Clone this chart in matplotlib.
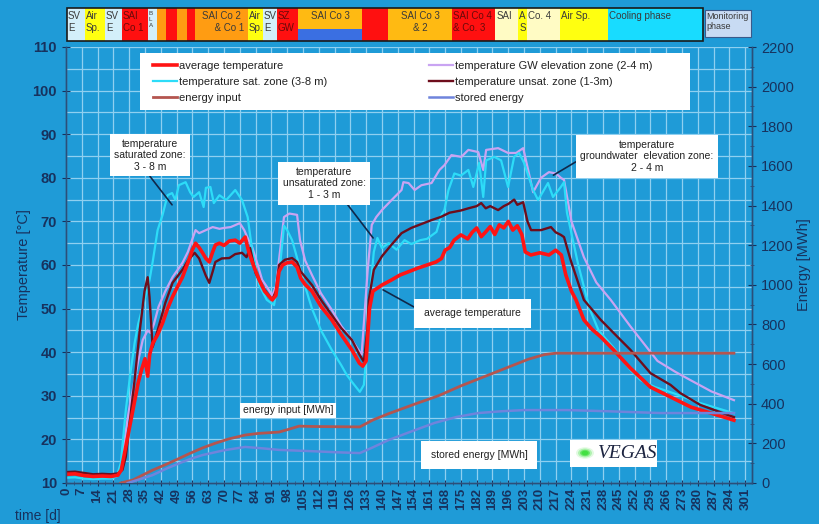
import matplotlib
matplotlib.use("Agg")
import matplotlib.pyplot as plt
from matplotlib.patches import Rectangle, Circle
from matplotlib.transforms import blended_transform_factory
from matplotlib.ticker import MultipleLocator

plt.rcParams['font.family'] = ['Liberation Sans', 'DejaVu Sans']

BG = '#1f9bd7'
INK = '#17325e'
GRID = '#8fd0f0'

# ---------------- temperature series (day, °C) ----------------
avg_day = [0, 4, 8, 12, 16, 20, 23, 24.5, 26, 27.5, 29, 30.5, 32, 33.5, 35, 36.2, 37.1, 38.4,
           40.6, 42.8, 45, 47.2, 49.4, 51.6, 54, 56, 57.4, 59, 60.5, 62, 63.5, 65, 66.2, 68, 70,
           72.4, 75, 77, 79.4, 81, 83, 85.6, 88, 91.4, 93, 94.4, 96, 98, 100.2, 102.4, 104, 106,
           109, 113, 117.8, 122, 126.7, 130, 131.5, 133, 134.5, 136, 140, 144, 148, 152, 156,
           160, 164, 166.4, 168, 170, 172, 175, 178, 180, 182, 184, 186, 188, 190, 192, 194,
           196, 198, 200, 202, 203.5, 206, 210, 214, 217, 219.5, 221.5, 224, 226, 229.5, 233,
           237, 242.7, 250, 259, 268, 277, 286, 296]
avg_temp = [12.0, 12.1, 11.7, 11.5, 11.6, 11.5, 11.8, 13, 17, 21, 25, 29, 33, 36, 38.5, 34.5,
            39.5, 42, 44, 46.7, 50, 52.7, 55, 57.2, 60.5, 63.5, 65, 64, 62.8, 61.5, 60.7, 63,
            64.6, 65, 64.5, 65.5, 65.7, 65, 66.4, 63, 60, 56.6, 54, 52, 53, 58.5, 60, 60.5,
            60.7, 59.5, 57, 55.5, 54, 50.5, 47.4, 44, 40.5, 37.5, 36.8, 38, 50, 54, 55.4, 56.5,
            57.7, 58.5, 59.3, 60, 60.7, 61.5, 63.4, 64, 65.7, 66.9, 66, 67.5, 68.5, 66.5, 67.6,
            68.8, 67, 69.2, 68.5, 70, 68, 69, 67, 63, 62.3, 62.8, 62.3, 63.4, 62.3, 57.7, 54,
            52, 47.4, 45.3, 43.5, 40.5, 36.4, 32, 29.7, 27.4, 26, 24.4]

gw_day = [0, 4, 8, 12, 16, 20, 23, 24.5, 26.5, 28, 30.4, 32, 34, 36.2, 37.5, 39, 41, 44, 47.2,
          51.6, 54, 57.4, 59, 62, 65, 68, 70, 73, 77, 79, 80.3, 82.5, 85, 86.9, 89, 91.4, 93,
          94.9, 96.6, 99, 102.4, 103.7, 106, 109, 113, 117.8, 122, 126.7, 131, 133.7, 135.5,
          137.5, 140, 144.3, 148.7, 149.5, 151.8, 154.5, 157.5, 162, 165.5, 167.7, 170.8,
          175.2, 178.3, 182.7, 184.9, 186.2, 191.5, 195.9, 199.5, 202.6, 204.8, 207, 210.5,
          214, 217.1, 219.3, 220.7, 224, 229.5, 235, 241.4, 250, 262.1, 270, 276.7, 286, 296]
gw_temp = [12.0, 12.2, 11.8, 11.6, 11.6, 11.6, 11.9, 14, 22, 27, 33.6, 38, 42.8, 45, 44.4,
           46.5, 50.4, 54, 57.2, 60.5, 63, 68, 67.3, 68, 68.7, 68.3, 68.5, 68.7, 69.6, 68,
           66.4, 64.1, 60, 56.6, 55, 53, 55, 63.4, 71, 71.8, 71.5, 65.7, 61, 57.7, 53.5, 49.7,
           46, 42.8, 39.4, 58.9, 69.2, 71, 72.6, 74.9, 77.2, 79, 78.8, 77.2, 78.3, 78.8, 81.8,
           82.9, 85.2, 84.8, 86.4, 85.9, 81.8, 86.4, 86.8, 85.7, 85.7, 86.8, 81.8, 76.7, 80,
           81.3, 81, 80, 79.5, 70, 61.8, 56, 52, 46, 38, 35.5, 33.6, 31, 29]

sat_day = [0, 4, 8, 12, 16, 20, 22.5, 24.3, 26.5, 28.5, 30.4, 32, 34, 37, 38.5, 40.6, 42.8,
           45, 47, 48.5, 50, 53, 55, 56.5, 59, 61, 62, 64, 65.5, 68, 71, 75, 78, 80.5, 82.5,
           85.6, 89, 92.2, 94.9, 96.6, 98, 100.2, 103.3, 106, 109, 113, 117.8, 122, 124.4,
           127, 130.2, 132, 133.7, 135, 136.4, 138, 140, 143, 146.5, 150, 153, 157, 160,
           164.2, 166.4, 167.7, 169.5, 172.1, 175, 178.3, 180.5, 183.1, 184.9, 186.2, 189.8,
           192.8, 195.9, 198.6, 200.8, 203, 207, 209.2, 213.6, 215.8, 219.3, 220.7, 222,
           226.8, 232, 236, 242.7, 250, 254.6, 261, 269.2, 280, 296]
sat_temp = [11.2, 11.3, 11.0, 10.9, 11.0, 11.0, 11.5, 14.6, 26.7, 35, 42.1, 46.5, 50.4, 56.5,
            61, 68, 71.5, 76, 76.5, 74.9, 78.3, 79, 76.7, 75.6, 76.7, 73.3, 77.7, 77.9, 74.2,
            76, 74.9, 77.2, 74.9, 71, 63.4, 55.4, 52, 50.8, 60, 69, 68, 65.7, 60, 55, 50, 45,
            40.5, 37, 34.8, 33, 30.9, 32.5, 42.8, 55, 63, 66.2, 63.9, 65, 63.5, 65.7, 64.8,
            65.7, 66, 67.6, 71.5, 72.6, 77.2, 81, 80.5, 81.8, 77.9, 83.4, 75.6, 84, 84.8, 84,
            77.9, 84.8, 85.7, 83.4, 77.2, 74.9, 78.8, 75.6, 77.9, 79, 72, 60.5, 50, 45, 41,
            36, 33.6, 32, 30.6, 28.5, 26]

unsat_day = [0, 4, 8, 12, 16, 20, 23, 25, 26.5, 28.2, 30.4, 32.7, 34.8, 36.2, 37, 38.4, 40.6,
             44, 47.2, 51.6, 54, 57, 59, 60.5, 62, 63.5, 65, 66.2, 69, 72.4, 75, 78, 80, 81.6,
             84, 87, 91.4, 93, 94.4, 97, 100.2, 102.4, 104, 109, 113, 117.8, 122, 126.7, 130,
             132, 133.5, 134.2, 136.4, 140, 144, 148.7, 153, 158, 162, 166, 170, 175, 178.3,
             182, 184, 186, 188, 191.5, 194, 196, 198.6, 200, 202.6, 204.5, 206.1, 210.5,
             214.9, 217, 219.3, 220.7, 223.7, 229.5, 237, 242.7, 250.2, 259, 267.9, 272.3,
             281.1, 296]
unsat_temp = [12.5, 12.6, 12.3, 12.0, 12.1, 12.0, 12.2, 13, 16, 23.8, 33.6, 45, 54, 57.2,
              52.7, 41.2, 45, 51.3, 55.9, 58.9, 61, 62.8, 61.5, 59.5, 57.5, 55.9, 58.5, 60.7,
              61.5, 61.6, 62.5, 62.8, 61.8, 63.9, 58.2, 55, 52, 54, 60, 61.2, 61.6, 60.7, 58.5,
              55.4, 52, 48.5, 45.5, 42.8, 39.5, 37.8, 45, 52, 58.9, 62, 64.5, 67.3, 68.5, 69.5,
              70.3, 71, 72, 72.5, 73, 73.5, 74.2, 73, 73.5, 72.6, 73.5, 74, 75, 73.8, 74.4, 70,
              68, 68, 68.7, 67.5, 66.9, 66.4, 61, 52, 47.4, 44.4, 40.5, 35.2, 32.5, 30.6, 27.9,
              25.1]

# ---------------- energy series (day, MWh) ----------------
einput_day = [24.3, 27, 29.6, 34, 38.4, 44, 49.4, 55, 60.5, 66, 72, 79.4, 85, 94.4, 99, 103.3,
              110, 120, 130.2, 136, 143, 155, 165, 175, 185, 195, 205, 212, 217, 296]
einput_mwh = [0, 8, 15, 40, 65, 92, 120, 150, 177, 200, 222, 242, 250, 257, 272, 287, 285, 284,
              283, 318, 350, 400, 440, 490, 535, 580, 625, 648, 655, 655]

stored_day = [27.4, 33, 38.4, 45, 51.6, 56, 60.5, 70, 79.4, 87, 94.4, 110, 120, 130.2, 136, 143,
              153, 163.3, 173, 182.7, 193, 203, 222, 240, 263.5, 296]
stored_mwh = [0, 20, 40, 75, 106, 125, 141, 165, 182, 175, 167, 160, 155, 151, 180, 217, 260,
              303, 333, 353, 362, 368, 368, 362, 353, 353]

# ---------------- operation phases (day boundaries) ----------------
phase_start = [0.4, 8.4, 17.3, 24.8, 36.3, 40.3, 44.3, 49.2, 53.6, 57.2, 80.7, 87.3, 93.5,
               102.8, 131.2, 142.7, 171.1, 190.2, 200.4, 204.3, 219.0, 240.2]
phase_end = phase_start[1:] + [282.4]
phase_labels = ['SV\nE', 'Air\nSp.', 'SV\nE', 'SAI\nCo 1', 'B\nL\nA', '', '', '', '',
                'SAI Co 2\n      & Co 1', 'Air\nSp.', 'SV\nE', 'SZ\nGW', 'SAI Co 3', '',
                'SAI Co 3\n& 2', 'SAI Co 4\n& Co. 3', 'SAI', 'A\nS', 'Co. 4', 'Air Sp.',
                'Cooling phase']
phase_kind = ['sve', 'air', 'sve', 'sai', 'sve', 'co', 'sai', 'co', 'sai', 'co', 'air', 'sve',
              'sai', 'co3', 'sai', 'co3', 'sai', 'pale', 'air', 'pale', 'air', 'cool']
monitor_span = (283.2, 303.6)

kind_colors = {'sve': '#d3effa', 'air': '#ffff10', 'sai': '#ff1010', 'co': '#ff9c12',
               'co3': '#ffba12', 'pale': '#fffbc4', 'cool': '#18dcff'}

x_ticks = list(range(0, 302, 7))

fig = plt.figure(figsize=(8.19, 5.24), dpi=100, facecolor=BG)
ax = fig.add_axes([66 / 819, 41 / 524, (752 - 66) / 819, (483 - 47) / 524])
ax.set_facecolor(BG)
ax2 = ax.twinx()

ax.set_xlim(0, 304)
ax.set_ylim(10, 110)
ax2.set_ylim(0, 2200)

# grid
ax.set_xticks(x_ticks)
ax.xaxis.set_minor_locator(MultipleLocator(3.5))
ax.yaxis.set_major_locator(MultipleLocator(10))
ax.yaxis.set_minor_locator(MultipleLocator(5))
ax.grid(True, which='major', axis='x', color=GRID, lw=0.9)
ax.grid(True, which='both', axis='y', color=GRID, lw=0.9)
ax.set_axisbelow(True)
ax2.yaxis.set_major_locator(MultipleLocator(200))
ax2.yaxis.set_minor_locator(MultipleLocator(100))

# curves
l_avg, = ax.plot(avg_day, avg_temp, color='#ff1414', lw=2.6, label='average temperature', zorder=6)
l_gw, = ax.plot(gw_day, gw_temp, color='#c9a4f2', lw=1.6,
                label='temperature GW elevation zone (2-4 m)', zorder=3)
l_sat, = ax.plot(sat_day, sat_temp, color='#2ddcf8', lw=1.6,
                 label='temperature sat. zone (3-8 m)', zorder=4)
l_uns, = ax.plot(unsat_day, unsat_temp, color='#6e0d1c', lw=1.7,
                 label='temperature unsat. zone (1-3m)', zorder=5)
l_ein, = ax2.plot(einput_day, einput_mwh, color='#b4554f', lw=2.0, label='energy input', zorder=3)
l_sto, = ax2.plot(stored_day, stored_mwh, color='#6f84dc', lw=1.8, label='stored energy', zorder=3)

# ticks and spines
for a in (ax, ax2):
    a.spines['top'].set_visible(False)
    for s in ('left', 'right', 'bottom'):
        a.spines[s].set_color('#2b4f7a')
        a.spines[s].set_linewidth(1.0)
ax.tick_params(axis='x', which='major', labelrotation=90, labelsize=9.5, colors=INK,
               direction='inout', length=5, pad=1)
ax.tick_params(axis='x', which='minor', direction='inout', length=3, colors='#2b4f7a')
ax.tick_params(axis='y', which='major', labelsize=10.5, colors=INK, direction='inout', length=6)
ax.tick_params(axis='y', which='minor', length=0)
ax2.tick_params(axis='y', which='major', labelsize=10.5, colors=INK, direction='inout', length=6)
ax2.tick_params(axis='y', which='minor', direction='inout', length=3, colors='#2b4f7a')
for lab in ax.get_xticklabels() + ax.get_yticklabels():
    lab.set_fontweight('bold')

ax.set_ylabel('Temperature [°C]', color=INK, fontsize=10.5, labelpad=1)
ax2.set_ylabel('Energy [MWh]', color=INK, fontsize=10.5, labelpad=2)
fig.text(15 / 819, 1 - 516 / 524, 'time [d]', color=INK, fontsize=10, va='center', ha='left')

# legend on a white panel
fig.patches.append(Rectangle((140 / 819, 1 - 110 / 524), 550 / 819, 57 / 524,
                             transform=fig.transFigure, facecolor='white', edgecolor='none',
                             zorder=8))
leg = fig.legend(handles=[l_avg, l_sat, l_ein, l_gw, l_uns, l_sto], loc='upper left',
                 bbox_to_anchor=(143 / 819, 1 - 51 / 524), ncol=2, frameon=False, fontsize=8,
                 handlelength=2.2, handletextpad=0.1, columnspacing=9.2, labelspacing=0.55)
leg.set_zorder(9)
for t in leg.get_texts():
    t.set_color('#222222')

# annotations
box = dict(boxstyle='square,pad=0.45', facecolor='white', edgecolor='none')
arrow = dict(arrowstyle='-', color='#10284a', lw=1.2, shrinkA=0, shrinkB=0)
ax.annotate('temperature\nsaturated zone:\n3 - 8 m', xy=(47, 73.8), xytext=(37.2, 85.2),
            ha='center', va='center', fontsize=7.5, color='#222222', bbox=box,
            arrowprops=dict(arrow, relpos=(0.45, 0.0)), zorder=10)
ax.annotate('temperature\nunsaturated zone:\n1 - 3 m', xy=(136.1, 66.2), xytext=(114.4, 78.7),
            ha='center', va='center', fontsize=7.5, color='#222222', bbox=box,
            arrowprops=dict(arrow, relpos=(0.74, 0.0)), zorder=10)
ax.annotate('temperature\ngroundwater  elevation zone:\n2 - 4 m', xy=(216, 80.6),
            xytext=(257.5, 84.9), ha='center', va='center', fontsize=7.5, color='#222222',
            bbox=box, arrowprops=dict(arrow, relpos=(0.0, 0.42)), zorder=10)
ax.annotate('average temperature', xy=(140.5, 54.3), xytext=(180, 48.9),
            ha='center', va='center', fontsize=7.5, color='#222222',
            bbox=dict(boxstyle='square,pad=0.95', facecolor='white', edgecolor='none'),
            arrowprops=dict(arrow, relpos=(0.0, 0.6)), zorder=10)
ax.text(98.4, 26.7, 'energy input [MWh]', ha='center', va='center', fontsize=7.5,
        color='#222222', bbox=dict(boxstyle='square,pad=0.25', facecolor='white',
                                   edgecolor='none'), zorder=10)
ax.text(183, 16.4, 'stored energy [MWh]', ha='center', va='center', fontsize=7.5,
        color='#222222', bbox=dict(boxstyle='square,pad=0.9', facecolor='white',
                                   edgecolor='none'), zorder=10)

# logo panel
fig.patches.append(Rectangle((570 / 819, 1 - 467 / 524), 87 / 819, 27 / 524,
                             transform=fig.transFigure, facecolor='white', edgecolor='none',
                             zorder=10))
for r, a in ((9, 0.15), (7, 0.3), (5, 0.6), (3.5, 0.9)):
    fig.patches.append(Circle((585 / 819, 1 - 453 / 524), r / 819, transform=fig.transFigure,
                              facecolor='#3ee03e', edgecolor='none', alpha=a, zorder=11))
fig.text(598 / 819, 1 - 453 / 524, 'VEGAS', family='Liberation Serif', style='italic',
         fontsize=14, color='#1c2440', va='center', ha='left', zorder=12)

# phase bar above the plot (x in days, y in figure fraction)
trans = blended_transform_factory(ax.transData, fig.transFigure)
y0, y1 = 1 - 41 / 524, 1 - 8 / 524
for s, e, lab, kind in zip(phase_start, phase_end, phase_labels, phase_kind):
    if kind == 'co3':
        mid = 1 - 29 / 524
        ax.add_patch(Rectangle((s, mid), e - s, y1 - mid, transform=trans, facecolor=kind_colors[kind],
                               edgecolor='none', clip_on=False, zorder=20))
        lower = '#3a6fe2' if lab == 'SAI Co 3' else kind_colors[kind]
        ax.add_patch(Rectangle((s, y0), e - s, mid - y0, transform=trans, facecolor=lower,
                               edgecolor='none', clip_on=False, zorder=20))
    else:
        ax.add_patch(Rectangle((s, y0), e - s, y1 - y0, transform=trans,
                               facecolor=kind_colors[kind], edgecolor='none', clip_on=False,
                               zorder=20))
    if not lab:
        continue
    tcol = '#6a0a0a' if kind == 'sai' else '#3a3a3a'
    fs = 4.5 if lab.startswith('B\n') else 7
    if kind in ('co', 'co3') and e - s > 20:
        ax.text((s + e) / 2, 1 - 11 / 524, lab, transform=trans, ha='center', va='top',
                fontsize=fs, color=tcol, zorder=21, clip_on=False, linespacing=1.2)
    else:
        ax.text(s + 0.4, 1 - 11 / 524, lab, transform=trans, ha='left', va='top',
                fontsize=fs, color=tcol, zorder=21, clip_on=False, linespacing=1.2)
ax.add_patch(Rectangle((phase_start[0], y0), phase_end[-1] - phase_start[0], y1 - y0,
                       transform=trans, facecolor='none', edgecolor='#1a1a1a', lw=1.2,
                       clip_on=False, zorder=22))
m0, m1 = 1 - 37 / 524, 1 - 10 / 524
ax.add_patch(Rectangle((monitor_span[0], m0), monitor_span[1] - monitor_span[0], m1 - m0,
                       transform=trans, facecolor='#c8dbf3', edgecolor='#3a5a8a', lw=0.8,
                       clip_on=False, zorder=20))
ax.text(monitor_span[0] + 0.6, 1 - 12 / 524, 'Monitoring\nphase', transform=trans, ha='left',
        va='top', fontsize=6.5, color='#3a3a3a', zorder=21, clip_on=False)

fig.savefig('out.png', dpi=100, facecolor=BG)
